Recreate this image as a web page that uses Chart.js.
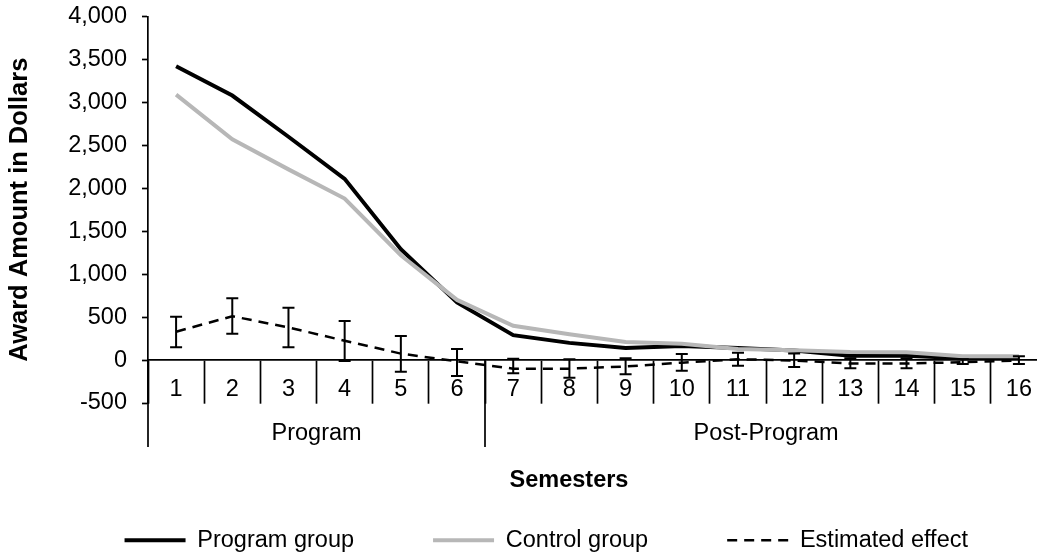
<!DOCTYPE html>
<html>
<head>
<meta charset="utf-8">
<script src="https://cdn.jsdelivr.net/npm/chart.js@4.4.1/dist/chart.umd.min.js"></script>
<style>
  html, body { margin: 0; padding: 0; overflow: hidden; background: #fff; }
  #wrap { width: 1090px; height: 558px; }
</style>
</head>
<body>
<div id="wrap"><canvas id="awardChart"></canvas></div>
<script>
const semesters = ["1", "2", "3", "4", "5", "6", "7", "8", "9", "10", "11", "12", "13", "14", "15", "16"];

const programGroup = [3420, 3080, 2600, 2110, 1290, 670, 290, 200, 140, 165, 140, 110, 50, 50, 20, 35];
const controlGroup = [3090, 2570, 2220, 1880, 1220, 700, 400, 300, 210, 190, 130, 115, 95, 90, 45, 45];
const estimatedEffect = [330, 510, 380, 225, 75, -15, -100, -100, -75, -30, 10, -5, -40, -40, -25, -5];
const effectUpper = [505, 720, 610, 455, 280, 130, 15, 10, 20, 70, 85, 75, 20, 20, 10, 45];
const effectLower = [150, 305, 150, -10, -135, -185, -155, -205, -165, -125, -65, -80, -95, -95, -45, -45];

// semester index ranges for the second label row
const phases = [
  { label: "Program", from: 0, to: 5 },
  { label: "Post-Program", from: 6, to: 15 }
];

const FONT = "'Liberation Sans', Arial, sans-serif";
Chart.defaults.font.family = FONT;
Chart.defaults.color = "#000";

// whiskers with caps around the estimated effect
const errorBars = {
  id: "errorBars",
  afterDatasetsDraw(chart) {
    const meta = chart.getDatasetMeta(2);
    const y = chart.scales.y;
    const ctx = chart.ctx;
    ctx.save();
    ctx.strokeStyle = "#000";
    ctx.lineWidth = 2;
    ctx.beginPath();
    meta.data.forEach((pt, i) => {
      const top = y.getPixelForValue(effectUpper[i]);
      const bot = y.getPixelForValue(effectLower[i]);
      ctx.moveTo(pt.x, top); ctx.lineTo(pt.x, bot);
      ctx.moveTo(pt.x - 6, top); ctx.lineTo(pt.x + 6, top);
      ctx.moveTo(pt.x - 6, bot); ctx.lineTo(pt.x + 6, bot);
    });
    ctx.stroke();
    ctx.restore();
  }
};

// group dividers, group labels and the x title
const phaseAxis = {
  id: "phaseAxis",
  afterDraw(chart) {
    const { ctx, scales: { x, y } } = chart;
    const y0 = y.getPixelForValue(0);
    ctx.save();
    ctx.strokeStyle = "#000";
    ctx.lineWidth = 1.7;
    ctx.beginPath();
    phases.forEach(p => {
      [p.from - 0.5, p.to + 0.5].forEach(v => {
        const px = Math.round(x.getPixelForValue(v));
        ctx.moveTo(px, y0);
        ctx.lineTo(px, y0 + 87);
      });
    });
    ctx.stroke();
    ctx.fillStyle = "#000";
    ctx.textAlign = "center";
    ctx.textBaseline = "middle";
    ctx.font = "23.5px " + FONT;
    phases.forEach(p => {
      ctx.fillText(p.label, x.getPixelForValue((p.from + p.to) / 2), y0 + 73);
    });
    ctx.font = "bold 23.5px " + FONT;
    ctx.fillText("Semesters", 569, 481);
    ctx.restore();
  }
};

new Chart(document.getElementById("awardChart"), {
  type: "line",
  data: {
    labels: semesters,
    datasets: [
      {
        label: "Program group",
        data: programGroup,
        borderColor: "#000",
        borderWidth: 4,
        pointRadius: 0,
        order: 2
      },
      {
        label: "Control group",
        data: controlGroup,
        borderColor: "#b7b7b7",
        borderWidth: 4,
        pointRadius: 0,
        order: 1
      },
      {
        label: "Estimated effect",
        data: estimatedEffect,
        borderColor: "#000",
        borderWidth: 2.5,
        borderDash: [10, 7],
        pointRadius: 0,
        order: 0
      }
    ]
  },
  options: {
    responsive: true,
    maintainAspectRatio: false,
    animation: false,
    layout: { padding: { top: 16.5, right: 43, bottom: -4, left: 0 } },
    scales: {
      x: {
        type: "category",
        position: { y: 0 },
        offset: true,
        border: { color: "#000", width: 1.7 },
        grid: {
          offset: true,
          drawOnChartArea: false,
          tickLength: 43,
          tickColor: "#000",
          tickWidth: 1.7
        },
        ticks: {
          autoSkip: false,
          maxRotation: 0,
          padding: -28,
          font: { size: 23.5 }
        }
      },
      y: {
        min: -500,
        max: 4000,
        afterFit(scale) {
          scale.width = 148;
          scale.paddingTop = 0;
          scale.paddingBottom = 0;
        },
        border: { color: "#000", width: 1.7 },
        grid: {
          drawOnChartArea: false,
          tickLength: 6,
          tickColor: "#000",
          tickWidth: 1.7
        },
        ticks: {
          stepSize: 500,
          padding: 15,
          font: { size: 23.5 },
          callback: v => v.toLocaleString("en-US")
        },
        title: {
          display: true,
          text: "Award Amount in Dollars",
          font: { size: 25.5, weight: "bold" },
          padding: { top: 5, bottom: 0 }
        }
      }
    },
    plugins: {
      tooltip: { enabled: false },
      legend: {
        position: "bottom",
        align: "end",
        title: { display: true, text: "", font: { size: 12 }, padding: { top: 32.1, bottom: 0 } },
        labels: {
          usePointStyle: true,
          pointStyle: "line",
          pointStyleWidth: 61,
          padding: 79,
          font: { size: 23.5 },
          color: "#000",
          sort: (a, b) => a.datasetIndex - b.datasetIndex,
          generateLabels(chart) {
            const items = Chart.defaults.plugins.legend.labels.generateLabels(chart);
            items.forEach(item => {
              const ds = chart.data.datasets[item.datasetIndex];
              item.lineDash = ds.borderDash || [];
              item.lineWidth = ds.borderWidth;
              item.strokeStyle = ds.borderColor;
            });
            return items;
          }
        }
      }
    }
  },
  plugins: [errorBars, phaseAxis]
});
</script>
</body>
</html>
